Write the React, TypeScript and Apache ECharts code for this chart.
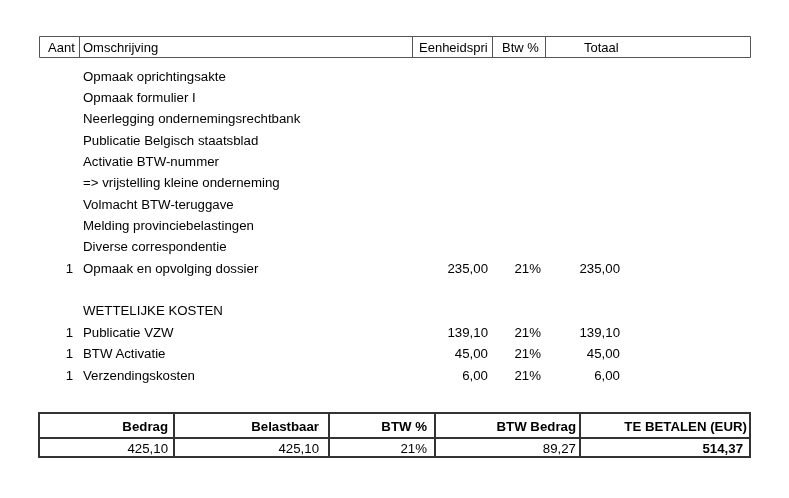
import React, { useEffect, useRef } from "react";
import * as echarts from "echarts";

const headerLabels = ["Aant", "Omschrijving", "Eenheidspri", "Btw %", "Totaal"];
const quantities = ["", "", "", "", "", "", "", "", "", "1", "", "", "1", "1", "1"];
const descriptions = [
  "Opmaak oprichtingsakte",
  "Opmaak formulier I",
  "Neerlegging ondernemingsrechtbank",
  "Publicatie Belgisch staatsblad",
  "Activatie BTW-nummer",
  "=> vrijstelling kleine onderneming",
  "Volmacht BTW-teruggave",
  "Melding provinciebelastingen",
  "Diverse correspondentie",
  "Opmaak en opvolging dossier",
  "",
  "WETTELIJKE KOSTEN",
  "Publicatie VZW",
  "BTW Activatie",
  "Verzendingskosten",
];
const unitPrices = ["", "", "", "", "", "", "", "", "", "235,00", "", "", "139,10", "45,00", "6,00"];
const vatRates = ["", "", "", "", "", "", "", "", "", "21%", "", "", "21%", "21%", "21%"];
const totals = ["", "", "", "", "", "", "", "", "", "235,00", "", "", "139,10", "45,00", "6,00"];
const summaryLabels = ["Bedrag", "Belastbaar", "BTW %", "BTW Bedrag", "TE BETALEN (EUR)"];
const summaryValues = ["425,10", "425,10", "21%", "89,27", "514,37"];

const FONT = '"Liberation Sans", Arial, sans-serif';

function txt(x: number, y: number, text: string, align: string, bold = false, size = 13.25) {
  return {
    type: "text",
    x,
    y,
    silent: true,
    style: {
      text,
      fill: "#000",
      font: `${bold ? "bold " : ""}${size}px ${FONT}`,
      textAlign: align,
      textVerticalAlign: "middle",
    },
  };
}

function ln(x1: number, y1: number, x2: number, y2: number, stroke: string, w: number) {
  return {
    type: "line",
    silent: true,
    shape: { x1, y1, x2, y2 },
    style: { stroke, lineWidth: w },
  };
}

export default function App() {
  const ref = useRef<HTMLDivElement>(null);
  useEffect(() => {
    if (!ref.current) return;
    const chart = echarts.init(ref.current, undefined, { renderer: "svg" });
    const els: any[] = [];
    els.push({ type: "rect", silent: true, shape: { x: 0, y: 0, width: 789, height: 498 }, style: { fill: "#fff" } });

    // header box
    const hc = "#555";
    els.push({ type: "rect", silent: true, shape: { x: 39.5, y: 36.5, width: 711, height: 21 }, style: { fill: "none", stroke: hc, lineWidth: 1 } });
    [79.5, 412.5, 492.5, 545.5].forEach((x) => els.push(ln(x, 36.5, x, 57.5, hc, 1)));
    const hy = 47;
    els.push(txt(48, hy, headerLabels[0], "left", false, 13));
    els.push(txt(83, hy, headerLabels[1], "left", false, 13));
    els.push(txt(419, hy, headerLabels[2], "left", false, 13));
    els.push(txt(502, hy, headerLabels[3], "left", false, 13));
    els.push(txt(584, hy, headerLabels[4], "left", false, 13));

    // rows
    descriptions.forEach((d, i) => {
      const y = 76 + i * 21.36;
      if (quantities[i]) els.push(txt(73, y, quantities[i], "right"));
      if (d) els.push(txt(83, y, d, "left"));
      if (unitPrices[i]) els.push(txt(488, y, unitPrices[i], "right"));
      if (vatRates[i]) els.push(txt(541, y, vatRates[i], "right"));
      if (totals[i]) els.push(txt(620, y, totals[i], "right"));
    });

    // summary table
    const bc = "#333";
    const bw = 2;
    els.push(ln(39, 413, 751, 413, bc, bw));
    els.push(ln(39, 438, 751, 438, bc, bw));
    els.push(ln(39, 457, 751, 457, bc, bw));
    [39, 174, 329, 435, 580, 750].forEach((x) => els.push(ln(x, 412, x, 458, bc, bw)));
    const rights = [168, 319, 427, 576, 747];
    const vRights = [168, 319, 427, 576, 743];
    summaryLabels.forEach((l, i) => els.push(txt(rights[i], 426, l, "right", true)));
    summaryValues.forEach((v, i) => els.push(txt(vRights[i], 448, v, "right", i === 4)));

    chart.setOption({ animation: false, graphic: { elements: els } });
    return () => chart.dispose();
  }, []);
  return <div ref={ref} style={{ position: "fixed", left: 0, top: 0, width: 789, height: 498 }} />;
}
